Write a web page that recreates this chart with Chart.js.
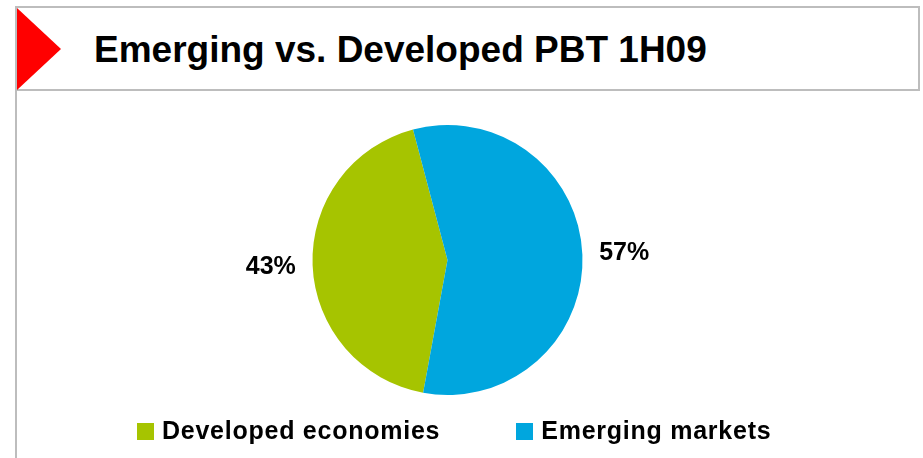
<!DOCTYPE html>
<html>
<head>
<meta charset="utf-8">
<title>Emerging vs. Developed PBT 1H09</title>
<script src="https://cdn.jsdelivr.net/npm/chart.js@4/dist/chart.umd.min.js"></script>
<style>
  html, body { margin: 0; padding: 0; background: #ffffff; }
  #page { position: relative; width: 923px; height: 458px; overflow: hidden; background: #ffffff;
          font-family: "Liberation Sans", Arial, Helvetica, sans-serif; }
  /* header frame */
  #frame-top { position: absolute; left: 16px; top: 6px; width: 904px; height: 2px; background: #bdbdbd; }
  #frame-right { position: absolute; left: 918px; top: 6px; width: 2px; height: 85px; background: #bdbdbd; }
  #frame-sep { position: absolute; left: 16px; top: 89px; width: 904px; height: 2px; background: #bdbdbd; }
  #frame-left { position: absolute; left: 15px; top: 6px; width: 2px; height: 452px; background: #bdbdbd; }
  #marker { position: absolute; left: 17px; top: 8px; width: 0; height: 0;
            border-top: 41px solid transparent; border-bottom: 41px solid transparent;
            border-left: 44px solid #ff0000; }
  #title { position: absolute; left: 94px; top: 31px; margin: 0; font-size: 37px; line-height: 37px;
           font-weight: bold; color: #000; white-space: nowrap; }
  #chart-wrap { position: absolute; left: 0; top: 0; width: 923px; height: 458px; }
  #legend { position: absolute; left: 137px; top: 418px; display: flex; gap: 76px; margin: 0; padding: 0; list-style: none; }
  #legend li { display: flex; align-items: center; font-size: 25px; font-weight: bold; letter-spacing: 0.75px;
               line-height: 25px; color: #000; white-space: nowrap; }
  #legend .swatch { display: inline-block; width: 17px; height: 17px; margin-right: 8px; margin-top: 1px; }
</style>
</head>
<body>
<div id="page">
  <div id="frame-top"></div>
  <div id="frame-right"></div>
  <div id="frame-sep"></div>
  <div id="frame-left"></div>
  <div id="marker"></div>
  <h1 id="title">Emerging vs. Developed PBT 1H09</h1>
  <div id="chart-wrap"><canvas id="pie" width="923" height="458"></canvas></div>
  <ul id="legend"></ul>
</div>
<script>
// Share of profit before tax, first half 2009 (percent)
const categories = ['Developed economies', 'Emerging markets'];
const shares = [43, 57];
const sliceColors = ['#a6c400', '#00a6de'];

// Percent labels placed just outside each slice, at its mid angle
const outsideLabels = {
  id: 'outsideLabels',
  afterDatasetsDraw(chart) {
    const ctx = chart.ctx;
    const meta = chart.getDatasetMeta(0);
    const values = chart.data.datasets[0].data;
    ctx.save();
    ctx.font = 'bold 25px "Liberation Sans", Arial, sans-serif';
    ctx.fillStyle = '#000000';
    ctx.textAlign = 'center';
    ctx.textBaseline = 'middle';
    meta.data.forEach((arc, i) => {
      const p = arc.getProps(['x', 'y', 'startAngle', 'endAngle', 'outerRadius'], true);
      const mid = (p.startAngle + p.endAngle) / 2;
      const dist = p.outerRadius * 1.31;
      ctx.fillText(values[i] + '%', p.x + Math.cos(mid) * dist, p.y + Math.sin(mid) * dist);
    });
    ctx.restore();
  }
};

const chart = new Chart(document.getElementById('pie'), {
  type: 'pie',
  data: {
    labels: categories,
    datasets: [{
      data: shares,
      backgroundColor: sliceColors,
      borderWidth: 0,
      hoverOffset: 0,
      offset: 0
    }]
  },
  options: {
    responsive: false,
    animation: false,
    rotation: 190.4,
    layout: { padding: { left: 312.5, right: 340.5, top: 125, bottom: 63 } },
    plugins: {
      legend: { display: false },
      title: { display: false },
      tooltip: { enabled: false }
    },
    events: []
  },
  plugins: [outsideLabels]
});

// Legend list built from the chart's own labels and colours
const legendEl = document.getElementById('legend');
chart.data.labels.forEach((label, i) => {
  const li = document.createElement('li');
  const sw = document.createElement('span');
  sw.className = 'swatch';
  sw.style.background = chart.data.datasets[0].backgroundColor[i];
  li.appendChild(sw);
  li.appendChild(document.createTextNode(label));
  legendEl.appendChild(li);
});
</script>
</body>
</html>
